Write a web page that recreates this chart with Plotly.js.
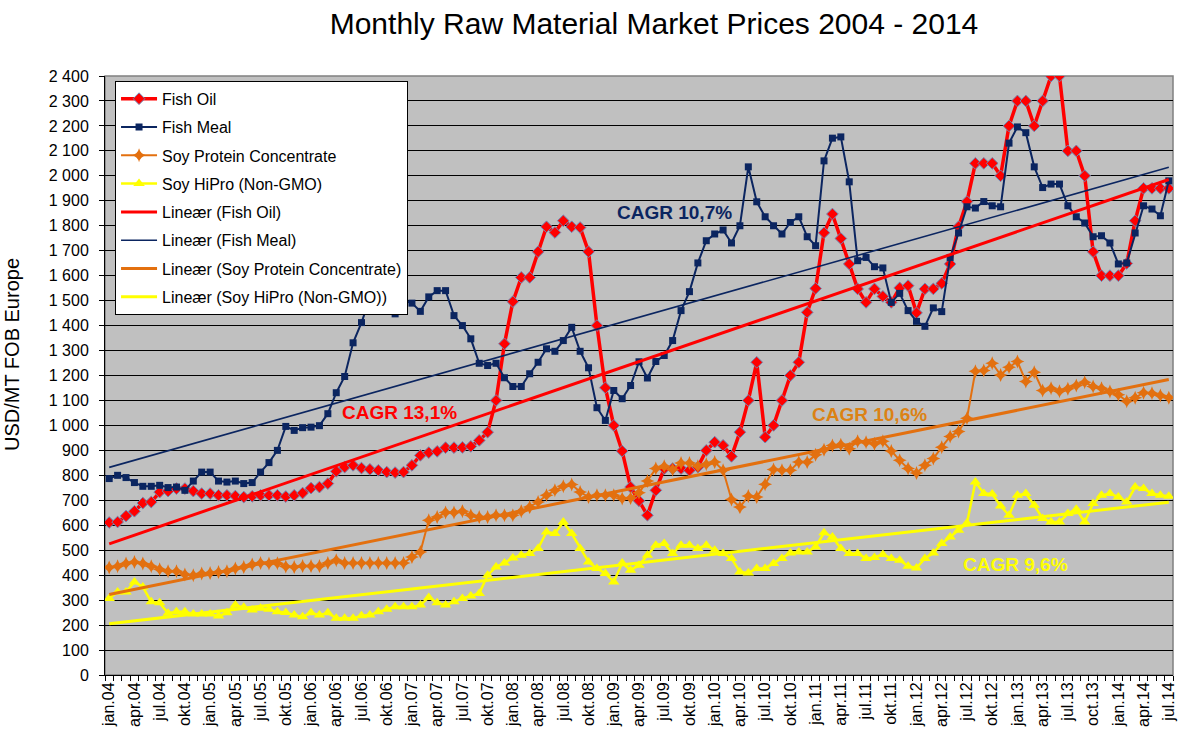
<!DOCTYPE html>
<html>
<head>
<meta charset="utf-8">
<script src="https://cdn.plot.ly/plotly-3.0.1.min.js"></script>
<style>html,body{margin:0;padding:0;background:#fff;}#chart{width:1188px;height:744px;}</style>
</head>
<body>
<div id="chart"></div>
<script>
// ---- Data (monthly jan.04 .. jul.14) ----
const tickLabels = ["jan.04","apr.04","jul.04","okt.04","jan.05","apr.05","jul.05","okt.05",
  "jan.06","apr.06","jul.06","okt.06","jan.07","apr.07","jul.07","okt.07",
  "jan.08","apr.08","jul.08","okt.08","jan.09","apr.09","jul.09","okt.09",
  "jan.10","apr.10","jul.10","okt.10","jan.11","apr.11","jul.11","okt.11",
  "jan.12","apr.12","jul.12","okt.12","jan.13","apr.13","jul.13","oct.13",
  "jan.14","apr.14","jul.14"];

const fishOil = [611,613,637,656,689,693,733,737,747,747,737,727,727,720,720,717,713,716,720,720,
  720,715,720,729,749,753,767,816,833,840,829,824,820,813,811,813,840,880,891,896,
  911,911,912,916,940,973,1100,1327,1496,1593,1593,1696,1796,1773,1820,1796,1793,1696,1400,1151,
  1000,897,753,698,640,740,827,827,827,820,833,900,933,920,876,973,1100,1253,953,1000,
  1100,1200,1253,1453,1549,1772,1847,1749,1647,1547,1493,1547,1517,1493,1551,1560,1451,1547,1547,1569,
  1647,1796,1897,2050,2050,2050,2000,2200,2300,2300,2200,2300,2400,2400,2100,2100,2000,1696,1600,1600,
  1600,1649,1820,1950,1950,1950,1950];

const fishMeal = [787,800,791,771,756,756,760,751,753,740,777,813,813,777,773,777,767,771,813,851,
  900,996,980,991,993,999,1047,1131,1196,1331,1412,1510,1560,1520,1447,1500,1490,1457,1515,1540,
  1540,1440,1400,1347,1249,1240,1249,1191,1156,1156,1207,1253,1307,1297,1340,1393,1297,1231,1071,1020,
  1140,1107,1160,1255,1190,1256,1280,1340,1460,1536,1651,1740,1767,1783,1731,1800,2036,1896,1836,1800,
  1767,1813,1836,1756,1720,2060,2151,2156,1976,1660,1673,1636,1631,1493,1529,1460,1417,1397,1471,1456,
  1673,1771,1876,1871,1897,1880,1876,2131,2196,2173,2036,1953,1967,1967,1880,1836,1811,1756,1760,1731,
  1647,1651,1771,1880,1867,1840,1980];

const soyProteinConc = [431,436,447,453,447,436,424,416,416,403,400,407,409,413,416,427,433,443,449,447,
  448,435,433,437,437,437,449,460,449,449,449,449,449,449,449,449,473,493,620,633,
  651,651,656,640,633,633,640,640,640,656,673,693,720,740,756,763,733,713,720,720,
  720,707,709,730,777,827,836,823,849,849,836,844,853,820,703,673,717,713,764,823,
  820,820,853,853,882,903,920,923,907,937,933,927,937,897,860,827,809,840,867,913,
  956,976,1029,1217,1220,1249,1202,1233,1256,1176,1213,1140,1149,1137,1147,1160,1173,1156,1149,1136,
  1123,1097,1111,1131,1129,1120,1111];

const soyHiPro = [307,333,333,373,353,293,289,247,253,253,244,244,244,236,249,280,271,260,267,263,
  253,250,240,233,249,240,249,227,227,227,237,240,253,263,273,273,273,280,311,289,
  280,293,307,317,327,400,433,449,469,480,487,507,573,567,613,567,507,453,427,407,
  373,449,420,440,480,520,527,487,520,520,507,520,500,487,467,413,409,427,427,447,
  467,489,493,493,513,570,553,507,487,487,467,471,483,467,460,436,429,467,489,527,
  553,580,609,773,727,725,677,640,720,727,680,627,613,613,647,664,613,687,720,727,
  713,693,753,747,727,720,716];

const seriesNames = ["Fish Oil","Fish Meal","Soy Protein Concentrate","Soy HiPro (Non-GMO)"];
const cagrLabels = ["CAGR 13,1%","CAGR 10,7%","CAGR 10,6%","CAGR 9,6%"];
const yTitle = "USD/MT FOB Europe";
const chartTitle = "Monthly Raw Material Market Prices 2004 - 2014";

// ---- Styling ----
const FONT = "Liberation Sans, Arial, Helvetica, sans-serif";
const cRed = "#ff0000", cNavy = "#0b2560", cOrange = "#e3700f", cYellow = "#ffff00";

const monthIdx = fishOil.map((_, i) => i);

function linfit(ys) {
  const n = ys.length;
  let sx = 0, sy = 0, sxx = 0, sxy = 0;
  ys.forEach((y, i) => { sx += i; sy += y; sxx += i * i; sxy += i * y; });
  const b = (n * sxy - sx * sy) / (n * sxx - sx * sx);
  const a = (sy - b * sx) / n;
  return { x: [0, n - 1], y: [a, a + b * (n - 1)] };
}

const seriesData = [fishOil, fishMeal, soyProteinConc, soyHiPro];
const seriesStyle = [
  { line: { color: cRed, width: 3.5 }, marker: { symbol: "diamond", size: 9, color: cRed, line: { color: "#6f86b3", width: 1 } } },
  { line: { color: cNavy, width: 2 }, marker: { symbol: "square", size: 7, color: cNavy } },
  { line: { color: cOrange, width: 2 }, marker: { symbol: "star-diamond", size: 10, color: cOrange } },
  { line: { color: cYellow, width: 2.5 }, marker: { symbol: "triangle-up", size: 10, color: cYellow } }
];
const trendStyle = [
  { color: cRed, width: 3 },
  { color: cNavy, width: 1.6 },
  { color: cOrange, width: 3 },
  { color: cYellow, width: 3 }
];

const traces = [];
seriesData.forEach((d, k) => {
  traces.push({
    type: "scatter", mode: "lines+markers", x: monthIdx, y: d,
    name: seriesNames[k], legendgroup: "s" + k,
    line: seriesStyle[k].line, marker: seriesStyle[k].marker, hoverinfo: "skip"
  });
});
seriesData.forEach((d, k) => {
  const f = linfit(d);
  traces.push({
    type: "scatter", mode: "lines", x: f.x, y: f.y,
    name: "Lineær (" + seriesNames[k] + ")", legendgroup: "t" + k,
    line: trendStyle[k], hoverinfo: "skip"
  });
});

const boundaries = [];
for (let i = 0; i <= monthIdx.length; i++) boundaries.push(i - 0.5);

const layout = {
  width: 1188, height: 744,
  margin: { l: 105, r: 15, t: 76, b: 69 },
  paper_bgcolor: "#ffffff",
  plot_bgcolor: "#c0c0c0",
  separators: ", ",
  font: { family: FONT, color: "#000", size: 16 },
  title: {
    text: chartTitle,
    font: { family: FONT, size: 30, color: "#000" },
    xref: "container", yref: "container", x: 0.5505, y: 0.969,
    xanchor: "center", yanchor: "middle"
  },
  showlegend: true,
  legend: {
    x: 0.0094, y: 0.992, xanchor: "left", yanchor: "top",
    bgcolor: "#ffffff", bordercolor: "#000000", borderwidth: 1,
    font: { family: FONT, size: 16, color: "#000" },
    traceorder: "grouped", tracegroupgap: 4.5, itemwidth: 36
  },
  xaxis: {
    range: [-0.5, monthIdx.length - 0.5],
    tickmode: "array",
    tickvals: tickLabels.map((_, j) => j * 3),
    ticktext: tickLabels,
    tickangle: -90,
    ticks: "", showgrid: false, zeroline: false,
    showline: true, linecolor: "#000", linewidth: 1,
    tickfont: { family: FONT, size: 16, color: "#000" },
    minor: { tickmode: "array", tickvals: boundaries, ticks: "outside", ticklen: 5, tickcolor: "#000", showgrid: false }
  },
  yaxis: {
    range: [0, 2400], dtick: 100, tick0: 0,
    separatethousands: true,
    showgrid: true, gridcolor: "#000000", gridwidth: 1,
    zeroline: false,
    showline: true, linecolor: "#000", linewidth: 1,
    ticks: "outside", ticklen: 5, tickcolor: "#000",
    ticklabelstandoff: 7,
    tickfont: { family: FONT, size: 16, color: "#000" }
  },
  shapes: [{
    type: "rect", xref: "paper", yref: "paper", x0: 0, x1: 1, y0: 0, y1: 1,
    line: { color: "#808080", width: 1.5 }, layer: "below"
  }],
  annotations: [
    { x: 34.5, y: 1050, text: "<b>" + cagrLabels[0] + "</b>", font: { family: FONT, size: 19, color: cRed } },
    { x: 67.2, y: 1854, text: "<b>" + cagrLabels[1] + "</b>", font: { family: FONT, size: 19, color: "#0b2560" } },
    { x: 90.4, y: 1042, text: "<b>" + cagrLabels[2] + "</b>", font: { family: FONT, size: 19, color: "#dc8214" } },
    { x: 107.8, y: 442, text: "<b>" + cagrLabels[3] + "</b>", font: { family: FONT, size: 19, color: cYellow } }
  ].map(a => Object.assign({ xref: "x", yref: "y", showarrow: false, xanchor: "center", yanchor: "middle" }, a))
   .concat([{
     xref: "paper", yref: "paper", x: -93 / 1068, y: (675 - 355) / 599,
     xanchor: "center", yanchor: "middle", textangle: -90, showarrow: false,
     text: yTitle, font: { family: FONT, size: 20, color: "#000" }
   }])
};

Plotly.newPlot("chart", traces, layout, { displayModeBar: false, staticPlot: true });
</script>
</body>
</html>
